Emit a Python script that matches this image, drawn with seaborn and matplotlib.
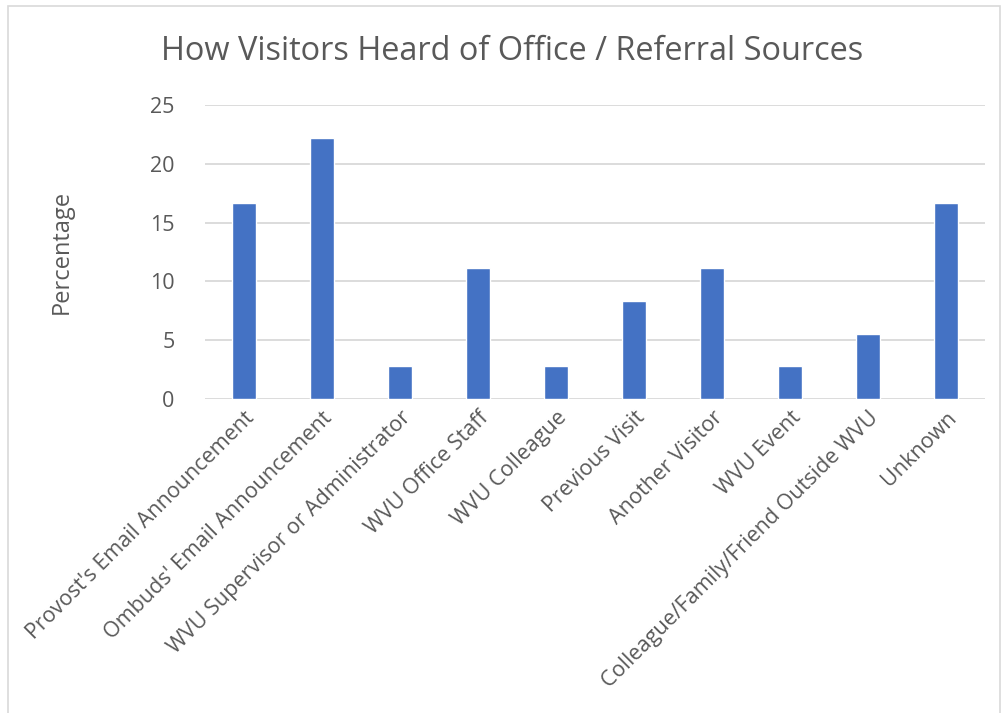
import matplotlib
matplotlib.use("Agg")
import matplotlib.pyplot as plt
import seaborn as sns
import pandas as pd
from matplotlib.patches import Rectangle

categories = ["Provost's Email Announcement", "Ombuds' Email Announcement",
              "WVU Supervisor or Administrator", "WVU Office Staff", "WVU Colleague",
              "Previous Visit", "Another Visitor", "WVU Event",
              "Colleague/Family/Friend Outside WVU", "Unknown"]
percentages = [16.67, 22.22, 2.78, 11.11, 2.78, 8.33, 11.11, 2.78, 5.56, 16.67]
yticks = [0, 5, 10, 15, 20, 25]

sns.set_theme(style="white")
plt.rcParams['font.family'] = ['Open Sans', 'DejaVu Sans']
txt = "#595959"

df = pd.DataFrame({"cat": categories, "pct": percentages})
fig = plt.figure(figsize=(10.03, 7.13), dpi=100)
ax = fig.add_axes([0.2044, 0.4404, 0.7776, 0.4123])
sns.barplot(data=df, x="cat", y="pct", color="#4472C4", saturation=1, width=0.31, ax=ax)
ax.set_ylim(0, 25)
ax.set_yticks(yticks)
ax.set_xlim(-0.5, len(categories) - 0.5)
ax.grid(axis="y", color="#D9D9D9", linewidth=1.3)
ax.set_axisbelow(True)
for s in ax.spines.values():
    s.set_visible(False)
ax.tick_params(axis="both", length=0, colors=txt, labelsize=15.5)
ax.tick_params(axis="y", pad=22)
ax.tick_params(axis="x", pad=6)
ax.set_xticks(range(len(categories)))
ax.set_xticklabels(categories, rotation=45, ha="right", rotation_mode="anchor", color=txt, fontsize=15.5)
ax.set_xlabel("")
ax.set_ylabel("")
fig.text(0.062, 0.6466, "Percentage", rotation=90, ha="center", va="center", color=txt, fontsize=17)
fig.text(0.511, 0.928, "How Visitors Heard of Office / Referral Sources", ha="center", va="center",
         color=txt, fontsize=23.4)
fig.patches.append(Rectangle((0.008, -0.1), 0.989, 1.091, transform=fig.transFigure,
                             fill=False, edgecolor="#D9D9D9", linewidth=1.2))
fig.savefig("out.png", dpi=100)
